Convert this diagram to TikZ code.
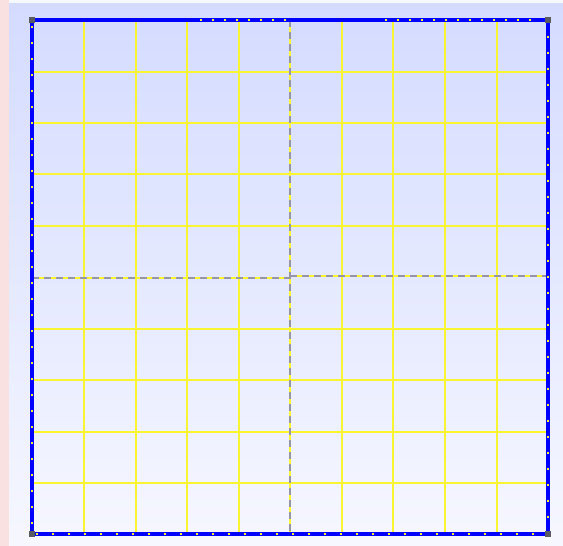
\documentclass[tikz,border=0pt]{standalone}
\usetikzlibrary{calc}
\definecolor{gridyellow}{RGB}{250,245,50}
\definecolor{topbg}{RGB}{212,219,255}
\definecolor{botbg}{RGB}{246,247,255}
\definecolor{pinkbg}{RGB}{250,225,225}
\definecolor{dashgray}{RGB}{150,150,165}
\definecolor{cornergray}{RGB}{90,90,100}
\tikzset{
  gridline/.style={draw=gridyellow,line width=2bp},
  axisline/.style={draw=dashgray,line width=2bp,dash pattern=on 7bp off 5bp},
  frameline/.style={draw=blue,line width=3.5bp},
  framedots/.style={draw=gridyellow,line width=1.2bp,dash pattern=on 2bp off 14bp},
  corner/.style={fill=cornergray,draw=none}
}
\begin{document}
\begin{tikzpicture}[x=1bp,y=-1bp]
\useasboundingbox (0,0) rectangle (563,546);
% backgrounds
\fill[pinkbg] (0,0) rectangle (9,546);
\fill[white!80!topbg] (9,0) rectangle (563,4);
\shade[top color=topbg,bottom color=botbg] (9,4) rectangle (563,546);
% grid lines
\foreach \x in {84,136,187,239,342,393,445,497}{
  \draw[gridline] (\x,20) -- (\x,534);
}
\foreach \y in {72,123,174,226,329,380,432,483}{
  \draw[gridline] (32,\y) -- (548,\y);
}
% centre dashed axes
\coordinate (vt) at (290,20);
\coordinate (vb) at (290,534);
\coordinate (hl) at (32,278);
\coordinate (hm) at (290,278);
\coordinate (hm2) at (290,276);
\coordinate (hr) at (548,276);
\draw[gridline] (vt) -- (vb);
\draw[gridline] (hl) -- (hm);
\draw[gridline] (hm2) -- (hr);
\draw[axisline] (vt) -- (vb);
\draw[axisline] (hl) -- (hm);
\draw[axisline] (hm2) -- (hr);
% frame
\coordinate (tl) at (32,20);
\coordinate (tr) at (548,20);
\coordinate (br) at (548,534);
\coordinate (bl) at (32,534);
\draw[frameline] (tl) -- (tr) -- (br) -- (bl) -- cycle;
\draw[framedots] (tr) -- (br) -- (bl) -- (tl);
\draw[framedots,dash pattern=on 2bp off 10bp] (200,20) -- (290,20);
\draw[framedots,dash pattern=on 2bp off 10bp] (385,20) -- (540,20);
% corner markers
\foreach \c in {tl,tr,br,bl}{
  \fill[corner] ($(\c)+(-3,-3)$) rectangle ($(\c)+(3,3)$);
}
\end{tikzpicture}
\end{document}
